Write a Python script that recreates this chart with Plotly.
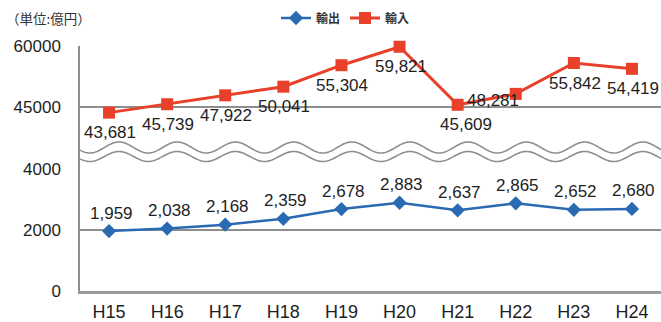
import math
import plotly.graph_objects as go

# Fiscal years (Heisei) and trade values in 100 million yen
years = ["H15", "H16", "H17", "H18", "H19", "H20", "H21", "H22", "H23", "H24"]
exports = [1959, 2038, 2168, 2359, 2678, 2883, 2637, 2865, 2652, 2680]
imports = [43681, 45739, 47922, 50041, 55304, 59821, 45609, 48281, 55842, 54419]

lower_ticks = [0, 2000, 4000]
upper_ticks = [45000, 60000]

BLUE = "#2a6ab3"
RED = "#e8402a"
GRID = "#8e8e8e"
TXT = "#1e1e1e"
NUM_FONT = "Liberation Sans, Arial, sans-serif"
JP_FONT = "Noto Sans CJK JP, sans-serif"

W, H = 661, 322
ML, MR, MT, MB = 80, 0, 46, 31
PW, PH = W - ML - MR, H - MT - MB

fig = go.Figure()
fig.add_trace(go.Scatter(
    x=years, y=exports, name="輸出", yaxis="y", mode="lines+markers",
    line=dict(color=BLUE, width=2.5),
    marker=dict(symbol="diamond", size=11, color=BLUE),
    cliponaxis=False,
))
fig.add_trace(go.Scatter(
    x=years, y=imports, name="輸入", yaxis="y2", mode="lines+markers",
    line=dict(color=RED, width=3),
    marker=dict(symbol="square", size=12, color=RED),
    cliponaxis=False,
))

annotations = []
for i, (yr, v) in enumerate(zip(years, exports)):
    annotations.append(dict(
        x=yr, y=v, xref="x", yref="y", text=f"{v:,}", showarrow=False,
        yshift=18, xshift=2, font=dict(family=NUM_FONT, size=17, color=TXT),
    ))
imp_shift = {6: (8, -20), 7: (-23, -7)}
for i, (yr, v) in enumerate(zip(years, imports)):
    xs, ys = imp_shift.get(i, (1, -20))
    annotations.append(dict(
        x=yr, y=v, xref="x", yref="y2", text=f"{v:,}", showarrow=False,
        xshift=xs, yshift=ys, font=dict(family=NUM_FONT, size=17, color=TXT),
    ))
annotations.append(dict(
    x=(4 - ML) / PW, y=(H - MB - 18) / PH, xref="paper", yref="paper",
    xanchor="left", yanchor="middle", showarrow=False, text="（単位:億円）",
    font=dict(family=JP_FONT, size=13.5, color="#333333"),
))


def px_to_paper(px, py):
    return (px - ML) / PW, (H - MB - py) / PH


def wave_path(center, amp, period=58.2, crest=119.0):
    pts = []
    x = ML
    while x <= W:
        py = center - amp * math.cos(2 * math.pi * (x - crest) / period)
        pts.append(px_to_paper(x, py))
        x += 1
    return "M" + " L".join(f"{a:.5f},{b:.5f}" for a, b in pts)


shapes = [
    dict(type="path", xref="paper", yref="paper", path=wave_path(147.5, 5.5),
         line=dict(color=GRID, width=1.6)),
    dict(type="path", xref="paper", yref="paper", path=wave_path(156.5, 5.0),
         line=dict(color=GRID, width=1.6)),
]

fig.update_layout(
    width=W, height=H, autosize=False,
    margin=dict(l=ML, r=MR, t=MT, b=MB, autoexpand=False),
    paper_bgcolor="white", plot_bgcolor="white",
    showlegend=True,
    legend=dict(
        orientation="h", x=(276 - ML) / PW, y=(H - MB - 18) / PH,
        xanchor="left", yanchor="middle", itemwidth=30,
        font=dict(family=JP_FONT, size=12, color="#333333", weight="bold"),
        bgcolor="rgba(0,0,0,0)", tracegroupgap=0,
    ),
    xaxis=dict(
        type="category", anchor="y", range=[-0.5, len(years) - 0.5],
        showgrid=False, showline=True,
        linecolor="#9a9a9a", linewidth=2.5, ticks="", ticklabelstandoff=3,
        tickfont=dict(family=NUM_FONT, size=18, color=TXT),
        automargin=False, fixedrange=True,
    ),
    yaxis=dict(
        domain=[0, 0.5], range=[0, 4002], tickvals=lower_ticks, tickformat="d",
        showgrid=True, gridcolor=GRID, gridwidth=1.5, zeroline=False,
        showline=True, linecolor=GRID, linewidth=1.5, ticks="",
        ticklabelstandoff=14, automargin=False,
        tickfont=dict(family=NUM_FONT, size=17, color=TXT),
    ),
    yaxis2=dict(
        domain=[0.5, 1], range=[29990, 60010], tickvals=upper_ticks,
        tickformat="d", anchor="x",
        showgrid=True, gridcolor=GRID, gridwidth=1.5, zeroline=False,
        showline=True, linecolor=GRID, linewidth=1.5, ticks="",
        ticklabelstandoff=14, automargin=False,
        tickfont=dict(family=NUM_FONT, size=17, color=TXT),
    ),
    annotations=annotations,
    shapes=shapes,
)

fig.write_html("out.html")
